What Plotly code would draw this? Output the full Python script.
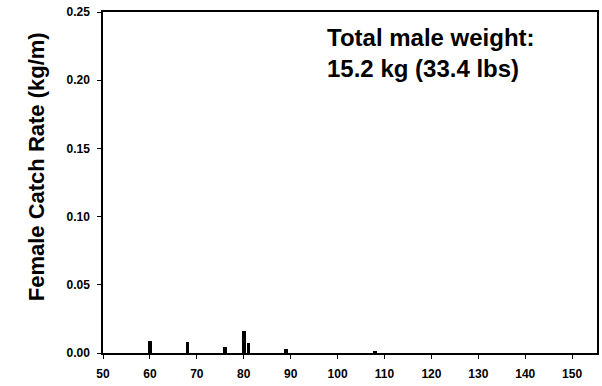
import plotly.graph_objects as go

lengths = [60, 68, 76, 80, 81, 89, 108]
rates = [0.0088, 0.0078, 0.0046, 0.0162, 0.0071, 0.0031, 0.0010]

x_ticks = list(range(50, 151, 10))
y_ticks = [0.00, 0.05, 0.10, 0.15, 0.20, 0.25]

FONT = "Liberation Sans, Arial, sans-serif"

fig = go.Figure()
fig.add_trace(go.Bar(x=lengths, y=rates, width=0.8,
                     marker=dict(color="black", line=dict(width=0)),
                     showlegend=False))

fig.update_layout(
    width=602, height=386,
    margin=dict(l=103, r=3, t=12, b=33),
    paper_bgcolor="white", plot_bgcolor="white",
    font=dict(family=FONT, color="black"),
    bargap=0,
)
fig.update_xaxes(range=[50, 155.3], tickvals=x_ticks, ticktext=[str(v) for v in x_ticks],
                 ticks="outside", ticklen=4, tickwidth=1, tickcolor="black",
                 ticklabelstandoff=5,
                 showline=True, linecolor="black", linewidth=1.5, mirror=True,
                 showgrid=False, zeroline=False,
                 tickfont=dict(size=12, family=FONT, weight="bold"))
fig.update_yaxes(range=[0, 0.25], tickvals=y_ticks, ticktext=[f"{v:.2f}" for v in y_ticks],
                 ticks="outside", ticklen=4, tickwidth=1, tickcolor="black",
                 ticklabelstandoff=5,
                 showline=True, linecolor="black", linewidth=1.5, mirror=True,
                 showgrid=False, zeroline=False,
                 tickfont=dict(size=12, family=FONT, weight="bold"))

fig.add_annotation(xref="paper", yref="paper", x=-(103-36)/496, y=1-(167-12)/341,
                   xanchor="center", yanchor="middle", textangle=-90, showarrow=False,
                   text="Female Catch Rate (kg/m)",
                   font=dict(size=22, family=FONT, weight="bold", color="black"))

fig.add_annotation(xref="paper", yref="paper", x=(326-103)/496, y=1-(22-12)/341,
                   xanchor="left", yanchor="top", align="left", showarrow=False,
                   text="Total male weight:<br>15.2 kg (33.4 lbs)",
                   font=dict(size=24, family=FONT, weight="bold", color="black"))

fig.write_html("out.html")
